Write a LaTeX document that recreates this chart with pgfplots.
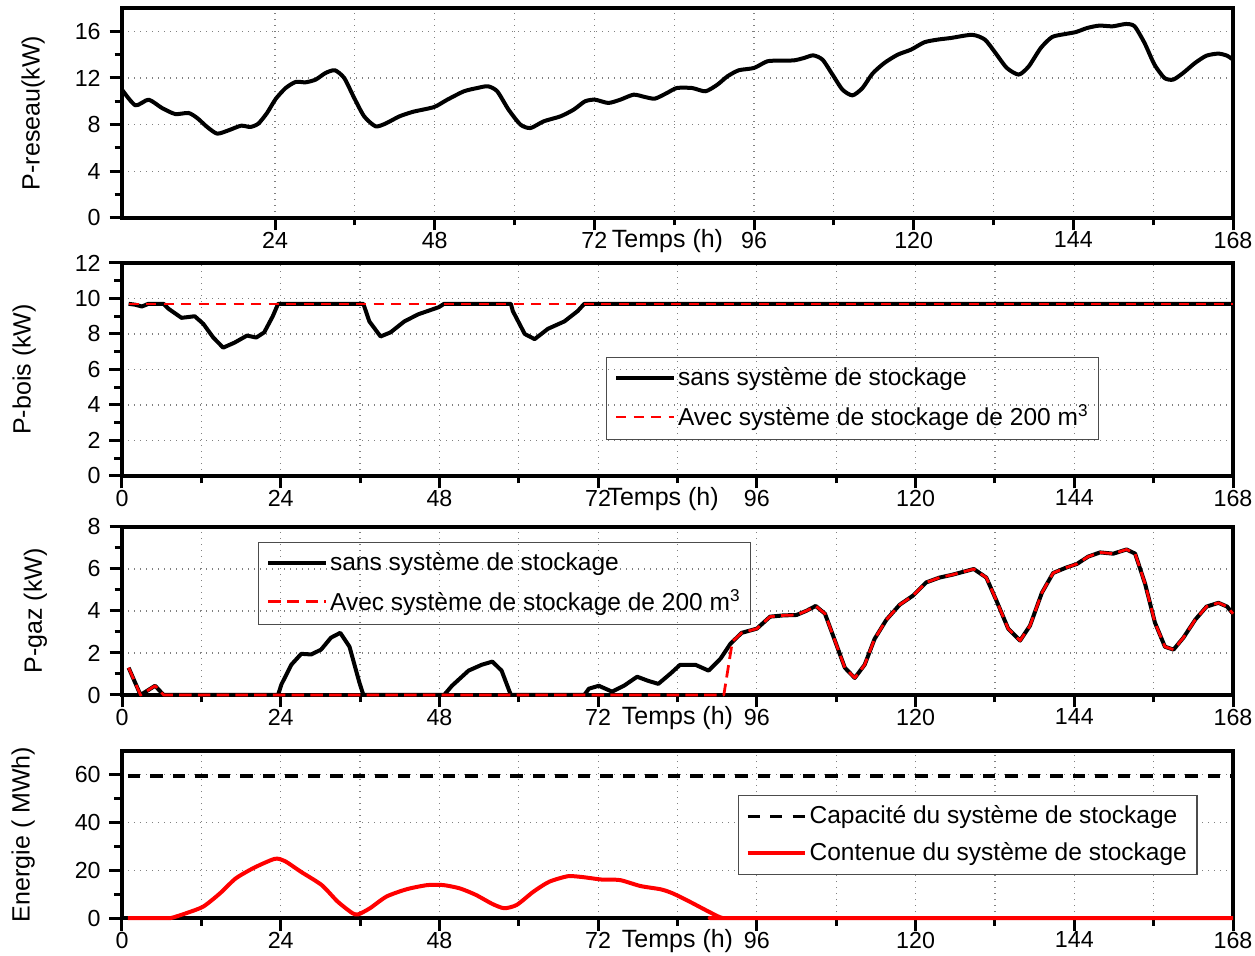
\documentclass[border=0pt]{standalone}
\usepackage{fontspec}
\setmainfont{Liberation Sans}
\usepackage{pgfplots}
\pgfplotsset{compat=1.18}
\usepackage{pgfplotstable}

% P-reseau (kW)
\pgfplotstableread{
h v
1.0 11.0
3.0 9.66
5.0 10.14
7.0 9.43
9.0 8.91
11.0 9.0
12.3 8.57
13.8 7.8
15.3 7.23
17.0 7.51
18.9 7.91
20.3 7.8
21.5 8.09
22.8 9.0
24.1 10.2
25.6 11.14
27.1 11.66
28.6 11.63
30.1 11.86
31.6 12.43
33.0 12.66
34.4 12.0
35.9 10.29
37.4 8.71
39.1 7.86
40.6 8.09
42.7 8.71
44.8 9.11
47.9 9.51
49.9 10.14
52.4 10.86
54.4 11.14
56.0 11.29
57.4 10.86
59.1 9.29
60.9 8.0
62.4 7.71
64.4 8.29
66.9 8.71
68.9 9.29
70.6 10.0
72.1 10.14
74.1 9.86
75.9 10.14
77.9 10.57
79.6 10.37
81.1 10.23
82.9 10.71
84.4 11.14
86.7 11.14
88.7 10.86
90.5 11.43
92.0 12.14
93.7 12.66
96.0 12.86
98.0 13.43
100.0 13.49
102.0 13.51
103.5 13.71
104.9 13.94
106.3 13.57
107.8 12.29
109.3 11.0
110.8 10.51
112.3 11.14
113.8 12.37
115.6 13.29
117.6 14.0
119.6 14.43
121.6 15.06
123.6 15.29
125.6 15.43
128.8 15.7
130.7 15.29
132.3 14.14
134.0 12.86
135.8 12.29
137.3 13.0
139.1 14.57
140.8 15.51
142.8 15.77
144.4 15.94
146.1 16.29
147.9 16.49
149.9 16.43
151.9 16.63
153.2 16.43
154.7 15.0
156.2 13.14
157.7 12.0
159.0 11.86
160.5 12.43
162.3 13.29
164.0 13.91
165.8 14.09
167.1 13.91
168.0 13.57
}\reseau

% P-bois sans stockage (kW)
\pgfplotstableread{
h v
1.0 9.7
2.0 9.65
3.0 9.55
4.0 9.7
6.3 9.7
7.0 9.43
9.0 8.91
11.0 9.0
12.3 8.57
13.8 7.8
15.3 7.23
17.0 7.51
18.9 7.91
20.3 7.8
21.5 8.09
22.8 9.0
23.6 9.7
36.5 9.7
37.4 8.71
39.1 7.86
40.6 8.09
42.7 8.71
44.8 9.11
47.9 9.51
48.7 9.7
58.8 9.7
59.1 9.29
60.9 8.0
62.4 7.71
64.4 8.29
66.9 8.71
68.9 9.29
69.9 9.7
168.0 9.7
}\boissans

% P-bois avec stockage (kW)
\pgfplotstableread{
h v
1.0 9.7
168.0 9.7
}\boisavec

% P-gaz sans stockage (kW)
\pgfplotstableread{
h v
1.0 1.3
2.8 0
5.0 0.44
6.3 0
23.6 0
24.1 0.5
25.6 1.44
27.1 1.96
28.6 1.93
30.1 2.16
31.6 2.73
33.0 2.96
34.4 2.3
35.9 0.59
36.5 0
48.7 0
49.9 0.44
52.4 1.16
54.4 1.44
56.0 1.59
57.4 1.16
58.8 0
69.9 0
70.6 0.3
72.1 0.44
74.1 0.16
75.9 0.44
77.9 0.87
79.6 0.67
81.1 0.53
82.9 1.01
84.4 1.44
86.7 1.44
88.7 1.16
90.5 1.73
92.0 2.44
93.7 2.96
96.0 3.16
98.0 3.73
100.0 3.79
102.0 3.81
103.5 4.01
104.9 4.24
106.3 3.87
107.8 2.59
109.3 1.3
110.8 0.81
112.3 1.44
113.8 2.67
115.6 3.59
117.6 4.3
119.6 4.73
121.6 5.36
123.6 5.59
125.6 5.73
128.8 6.0
130.7 5.59
132.3 4.44
134.0 3.16
135.8 2.59
137.3 3.3
139.1 4.87
140.8 5.81
142.8 6.07
144.4 6.24
146.1 6.59
147.9 6.79
149.9 6.73
151.9 6.93
153.2 6.73
154.7 5.3
156.2 3.44
157.7 2.3
159.0 2.16
160.5 2.73
162.3 3.59
164.0 4.21
165.8 4.39
167.1 4.21
168.0 3.87
}\gazsans

% P-gaz avec stockage (kW)
\pgfplotstableread{
h v
1.0 1.3
2.8 0
5.0 0.44
6.3 0
91.0 0
92.3 2.55
93.7 2.96
96.0 3.16
98.0 3.73
100.0 3.79
102.0 3.81
103.5 4.01
104.9 4.24
106.3 3.87
107.8 2.59
109.3 1.3
110.8 0.81
112.3 1.44
113.8 2.67
115.6 3.59
117.6 4.3
119.6 4.73
121.6 5.36
123.6 5.59
125.6 5.73
128.8 6.0
130.7 5.59
132.3 4.44
134.0 3.16
135.8 2.59
137.3 3.3
139.1 4.87
140.8 5.81
142.8 6.07
144.4 6.24
146.1 6.59
147.9 6.79
149.9 6.73
151.9 6.93
153.2 6.73
154.7 5.3
156.2 3.44
157.7 2.3
159.0 2.16
160.5 2.73
162.3 3.59
164.0 4.21
165.8 4.39
167.1 4.21
168.0 3.87
}\gazavec

% Energie stockee (MWh)
\pgfplotstableread{
h v
0.9 0
4.0 0
6.0 0
7.4 0
9.8 2.1
12.3 4.8
14.8 10.3
17.2 16.6
20.0 21.1
23.1 24.8
24.6 23.9
27.1 19.3
30.2 13.8
32.6 6.9
34.8 2.1
35.7 1.5
37.5 4.1
40.0 9.0
43.1 12.1
46.2 13.8
48.6 13.8
51.1 12.4
53.5 9.7
56.0 5.9
57.8 4.1
59.7 5.5
62.2 11.0
64.6 15.2
67.4 17.5
69.5 17.2
72.6 16.1
75.3 15.9
78.4 13.4
81.5 12.0
83.3 10.3
85.8 6.9
88.2 3.4
90.1 0.7
90.8 0
91.5 0
93.0 0
168.0 0
}\energie

\pgfplotstableread{
h v
0.9 59.5
168.0 59.5
}\capacite

\pgfplotsset{
  panel/.style={
    scale only axis, width=444.4pt, anchor=south west,
    xmin=0, xmax=168,
    xtick={0,24,...,168}, minor x tick num=1, minor y tick num=1,
    tick align=outside, tick pos=left,
    axis line style={line width=1.4pt},
    every tick/.style={black, line width=1.2pt},
    major tick length=5pt, minor tick length=3pt,
    xmajorgrids, xminorgrids, ymajorgrids,
    major grid style={black!50, dotted, line width=0.5pt},
    minor grid style={black!50, dotted, line width=0.5pt},
    tick label style={font=\fontsize{9.3}{11}\selectfont},
    xticklabel style={yshift=3pt},
    /pgf/number format/assume math mode=true,
    label style={font=\fontsize{10}{12}\selectfont},
    xlabel={Temps (h)},
    xlabel style={at={(axis description cs:0.5,0)}, anchor=north, yshift=-1.2pt},
    legend cell align=left,
    legend style={font=\fontsize{9.8}{11.5}\selectfont, draw=black!70,
      line width=0.5pt, fill=none, inner xsep=3pt, inner ysep=2pt,
      row sep=2pt, nodes={inner xsep=1pt}},
    legend image code/.code={\draw[##1] (0pt,0pt) -- (23pt,0pt);},
    clip=false,
  },
  noir/.style={black, line width=1.6pt, line join=round},
}

\begin{document}
\begin{tikzpicture}
\useasboundingbox (0,0) rectangle (502pt,382pt);

% P-reseau
\begin{axis}[panel, at={(48.8pt,294.8pt)}, height=84pt,
  xmin=1, xtick={24,48,...,168},
  ymin=0, ymax=18, ytick={0,4,...,16},
  ylabel={P-reseau(kW)},
  ylabel style={at={(axis description cs:-0.080,0.5)}, anchor=center},
  xlabel style={at={(axis description cs:0.491,0)}}]
\addplot[noir, smooth, tension=0.4] table[x=h, y=v] {\reseau};
\end{axis}

% P-bois
\begin{axis}[panel, at={(48.8pt,191.6pt)}, height=85.2pt,
  ymin=0, ymax=12, ytick={0,2,...,12},
  ylabel={P-bois (kW)},
  ylabel style={at={(axis description cs:-0.088,0.5)}, anchor=center},
  xlabel style={at={(axis description cs:0.487,0)}},
  legend style={at={(axis description cs:0.4356,0.559)}, anchor=north west}]
\addplot[noir] table[x=h, y=v] {\boissans};
\addlegendentry{sans système de stockage}
\addplot[red, line width=0.8pt, dash pattern=on 4pt off 3pt] table[x=h, y=v] {\boisavec};
\addlegendentry{Avec système de stockage de 200 m\textsuperscript{3}}
\end{axis}

% P-gaz
\begin{axis}[panel, at={(48.8pt,104pt)}, height=67.2pt,
  ymin=0, ymax=8, ytick={0,2,...,8},
  ylabel={P-gaz (kW)},
  ylabel style={at={(axis description cs:-0.078,0.5)}, anchor=center},
  legend style={at={(axis description cs:0.1224,0.911)}, anchor=north west}]
\addplot[noir] table[x=h, y=v] {\gazsans};
\addlegendentry{sans système de stockage}
\addplot[red, line width=1.1pt, dash pattern=on 5pt off 2.5pt, line join=round] table[x=h, y=v] {\gazavec};
\addlegendentry{Avec système de stockage de 200 m\textsuperscript{3}}
\end{axis}

% Energie
\begin{axis}[panel, at={(48.8pt,14.8pt)}, height=66.8pt,
  ymin=0, ymax=70, ytick={0,20,40,60},
  ylabel={Energie ( MWh)},
  ylabel style={at={(axis description cs:-0.089,0.5)}, anchor=center},
  legend style={at={(axis description cs:0.554,0.737)}, anchor=north west, fill=white}]
\addplot[black, line width=1.3pt, dash pattern=on 4.9pt off 4.1pt] table[x=h, y=v] {\capacite};
\addlegendentry{Capacité du système de stockage}
\addplot[red, line width=1.6pt, line join=round, smooth, tension=0.4] table[x=h, y=v] {\energie};
\addlegendentry{Contenue du système de stockage}
\end{axis}
\end{tikzpicture}
\end{document}
